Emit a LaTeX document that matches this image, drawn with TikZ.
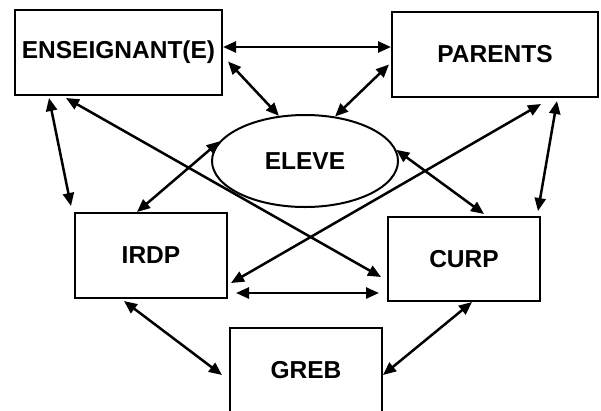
\documentclass[tikz,border=0pt]{standalone}
\usepackage{fontspec}
\setmainfont{Liberation Sans}
\usetikzlibrary{arrows.meta,shapes.geometric}

\begin{document}
\begin{tikzpicture}[x=1pt,y=-1pt,
    box/.style={draw, line width=2pt, inner sep=0pt,
      font=\fontsize{24.5}{28}\selectfont\bfseries},
    link/.style={line width=2.5pt, {Triangle[length=13pt,width=11pt]}-{Triangle[length=13pt,width=11pt]}}]
      \useasboundingbox (0,0) rectangle (601,410);
      % les partenaires
      \node[box, minimum width=207pt, minimum height=85pt] (ens) at (118.5,52.5) {ENSEIGNANT(E)};
      \node[box, minimum width=206pt, minimum height=85pt] (par) at (495,54.5) {PARENTS};
      \node[box, ellipse, minimum width=186pt, minimum height=92pt] (eleve) at (305,161) {ELEVE};
      \node[box, minimum width=152pt, minimum height=85pt] (irdp) at (151,255.5) {IRDP};
      \node[box, minimum width=152pt, minimum height=84pt] (curp) at (464,259) {CURP};
      \node[box, minimum width=152pt, minimum height=84pt] (greb) at (306,370) {GREB};
      % les liens
      \draw[link] ([yshift=5.5pt]ens.east) -- ([yshift=7.5pt]par.west);
      \draw[link] ([xshift=5pt,yshift=-9pt]ens.east) -- (eleve.120);
      \draw[link] ([xshift=-2pt,yshift=-10pt]par.west) -- (eleve.56);
      \draw[link] ([xshift=35pt,yshift=-2pt]ens.south west) -- ([xshift=-3pt,yshift=6pt]irdp.north west);
      \draw[link] ([xshift=52pt,yshift=-2pt]ens.south west) -- ([xshift=-6pt,yshift=-18pt]curp.west);
      \draw[link] ([xshift=150pt,yshift=-6pt]par.south west) -- ([xshift=3pt,yshift=16pt]irdp.south east);
      \draw[link] ([xshift=166pt,yshift=-3pt]par.south west) -- ([xshift=-3pt,yshift=5pt]curp.north east);
      \draw[link] (eleve.167) -- ([xshift=63pt]irdp.north west);
      \draw[link] (eleve.7) -- ([xshift=97pt,yshift=2pt]curp.north west);
      \draw[link] ([xshift=8pt,yshift=6pt]irdp.south east) -- ([xshift=-8pt,yshift=9pt]curp.south west);
      \draw[link] ([xshift=50pt,yshift=-2pt]irdp.south west) -- ([xshift=-7pt,yshift=-5pt]greb.west);
      \draw[link] ([xshift=85pt]curp.south west) -- ([yshift=-5pt]greb.east);
    \end{tikzpicture}
\end{document}
